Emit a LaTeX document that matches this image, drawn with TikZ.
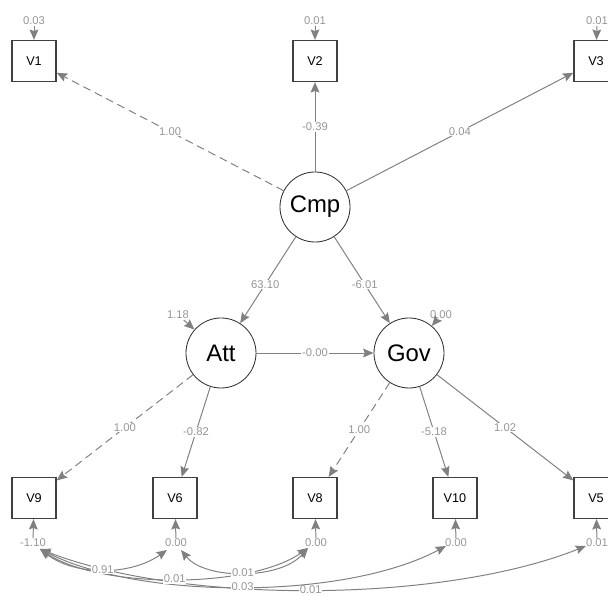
\documentclass[tikz,border=0pt]{standalone}
\usepackage{fontspec}
\setmainfont{Liberation Sans}
\usepackage{tikz}
\usetikzlibrary{arrows.meta, positioning}

\definecolor{pathgray}{RGB}{128,128,128}
\definecolor{labgray}{RGB}{150,150,150}

\tikzset{
    manifest/.style = {draw=black!75, line width=1pt, minimum width=1.1cm, minimum height=1.02cm, inner sep=0pt, font=\fontsize{9}{10}\selectfont},
    latent/.style = {draw=black!80, line width=0.6pt, circle, minimum size=1.75cm, inner sep=0pt, font=\fontsize{17}{20}\selectfont},
    load/.style = {draw=pathgray, line width=0.7pt, -{Stealth[length=2.6mm, width=2.2mm, inset=0.4mm]}},
    fixed/.style = {load, dash pattern=on 2mm off 1.2mm},
    covar/.style = {draw=pathgray, line width=0.7pt, {Stealth[length=2.6mm, width=2.2mm, inset=0.4mm]}-{Stealth[length=2.6mm, width=2.2mm, inset=0.4mm]}},
    coef/.style = {font=\fontsize{8}{9}\selectfont, text=labgray, fill=white, inner sep=0.5pt},
    resvar/.style = {font=\fontsize{8}{9}\selectfont, text=labgray, inner sep=0.5pt}
}

\begin{document}
\begin{tikzpicture}[x=0.025cm, y=-0.025cm]
            \useasboundingbox (0, 0) rectangle (608, 597);

            \node [manifest] (V1) at (34, 61) {V1};
            \node [manifest] (V2) at (315, 61) {V2};
            \node [manifest] (V3) at (596, 61) {V3};
            \node [latent] (Cmp) at (315, 207) {Cmp};
            \node [latent] (Att) at (221, 353) {Att};
            \node [latent] (Gov) at (409, 353) {Gov};
            \node [manifest] (V9) at (34, 498) {V9};
            \node [manifest] (V6) at (175, 498) {V6};
            \node [manifest] (V8) at (315, 498) {V8};
            \node [manifest] (V10) at (455, 498) {V10};
            \node [manifest] (V5) at (596, 498) {V5};

            \node [resvar] (r1) at (34, 21) {0.03};
            \node [resvar] (r2) at (315, 21) {0.01};
            \node [resvar] (r3) at (597, 21) {0.01};
            \node [resvar] (rAtt) at (178, 315) {1.18};
            \node [resvar] (rGov) at (441, 315) {0.00};
            \node [resvar] (r9) at (33, 543) {-1.10};
            \node [resvar] (r6) at (176, 543) {0.00};
            \node [resvar] (r8) at (316, 543) {0.00};
            \node [resvar] (r10) at (456, 543) {0.00};
            \node [resvar] (r5) at (597, 543) {0.01};

            \draw [load] (r1) -- (V1);
            \draw [load] (r2) -- (V2);
            \draw [load] (r3) -- (V3);
            \draw [load] (rAtt) -- (Att);
            \draw [load] (rGov) -- (Gov);
            \draw [load] (r9) -- (V9);
            \draw [load] (r6) -- (V6);
            \draw [load] (r8) -- (V8);
            \draw [load] (r10) -- (V10);
            \draw [load] (r5) -- (V5);

            \draw [fixed] (Cmp) -- node [coef] {1.00} (V1);
            \draw [load] (Cmp) -- node [coef] {-0.39} (V2);
            \draw [load] (Cmp) -- node [coef] {0.04} (V3);
            \draw [load] (Cmp) -- node [coef, pos=0.55] {63.10} (Att);
            \draw [load] (Cmp) -- node [coef, pos=0.55] {-6.01} (Gov);
            \draw [load] (Att) -- node [coef] {-0.00} (Gov);
            \draw [fixed] (Att) -- node [coef] {1.00} (V9);
            \draw [load] (Att) -- node [coef] {-0.82} (V6);
            \draw [fixed] (Gov) -- node [coef] {1.00} (V8);
            \draw [load] (Gov) -- node [coef] {-5.18} (V10);
            \draw [load] (Gov) -- node [coef] {1.02} (V5);

            \coordinate (c9) at (40, 549);
            \coordinate (c6l) at (167, 550);
            \coordinate (c6r) at (181, 550);
            \coordinate (c8) at (308, 548);
            \coordinate (c10) at (446, 546);
            \coordinate (c5) at (586, 546);

            \draw [covar] (c9) .. controls (180, 604) and (440, 604) .. node [coef] {0.01} (c5);
            \draw [covar] (c9) .. controls (140, 600) and (345, 600) .. node [coef] {0.03} (c10);
            \draw [covar] (c9) .. controls (100, 589) and (250, 589) .. node [coef] {0.01} (c8);
            \draw [covar] (c6r) .. controls (205, 580) and (280, 580) .. node [coef] {0.01} (c8);
            \draw [covar] (c9) .. controls (75, 576) and (130, 576) .. node [coef] {0.91} (c6l);
\end{tikzpicture}
\end{document}
